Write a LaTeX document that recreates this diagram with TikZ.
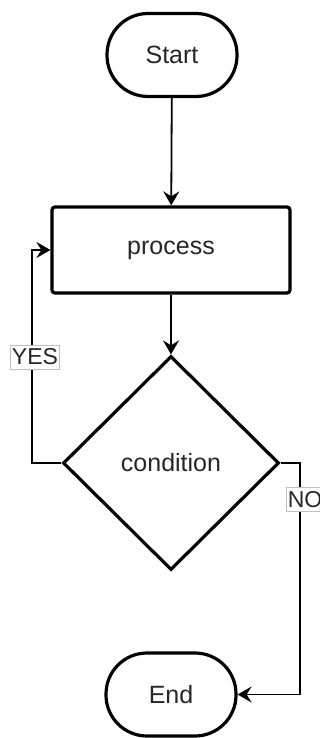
\documentclass[tikz,border=0pt]{standalone}
\usepackage{fontspec}
\setmainfont{Liberation Sans}
\usetikzlibrary{arrows.meta,shapes.geometric}
\begin{document}
\begin{tikzpicture}[x=1pt,y=-1pt,
  shapefont/.style={font=\fontsize{25}{30}\selectfont, text=black!85},
  terminal/.style={shapefont, draw, line width=3.2pt, rounded corners=41pt,
    minimum width=130pt, minimum height=83pt, inner sep=0pt},
  procbox/.style={shapefont, draw, line width=3.2pt, rounded corners=3pt,
    minimum width=238pt, minimum height=86pt, inner sep=0pt},
  decision/.style={shapefont, draw, diamond, aspect=1, line width=3.2pt,
    minimum width=216pt, minimum height=214pt, inner sep=0pt},
  conn/.style={line width=1.8pt, -{Stealth[length=14pt,width=16pt,inset=5pt]}},
  lab/.style={font=\fontsize{23}{28}\selectfont, text=black!85, fill=white,
    draw=black!25, line width=0.6pt, inner xsep=1.5pt, inner ysep=4pt}
]
\useasboundingbox (0,0) rectangle (320,738);
\clip (0,0) rectangle (320,738);
\node[terminal] (start) at (172,55) {Start};
\node[procbox] (process) at (171,250) {process};
\node[decision] (cond) at (171,463) {condition};
\node[terminal] (end) at (171,694.5) {End};
\coordinate (lx) at (32,0);
\coordinate (rx) at (300,0);
\draw[conn] (start) -- (process);
\draw[conn] (process) -- (cond);
\draw[conn] (cond.west) -- (cond.west -| lx) |- (process.west);
\draw[conn] (cond.east) -- (cond.east -| rx) |- (end.east);
\node[lab] (yes) at (35,357) {YES};
\node[lab] (no) at (305,499.5) {NO};
\end{tikzpicture}
\end{document}
